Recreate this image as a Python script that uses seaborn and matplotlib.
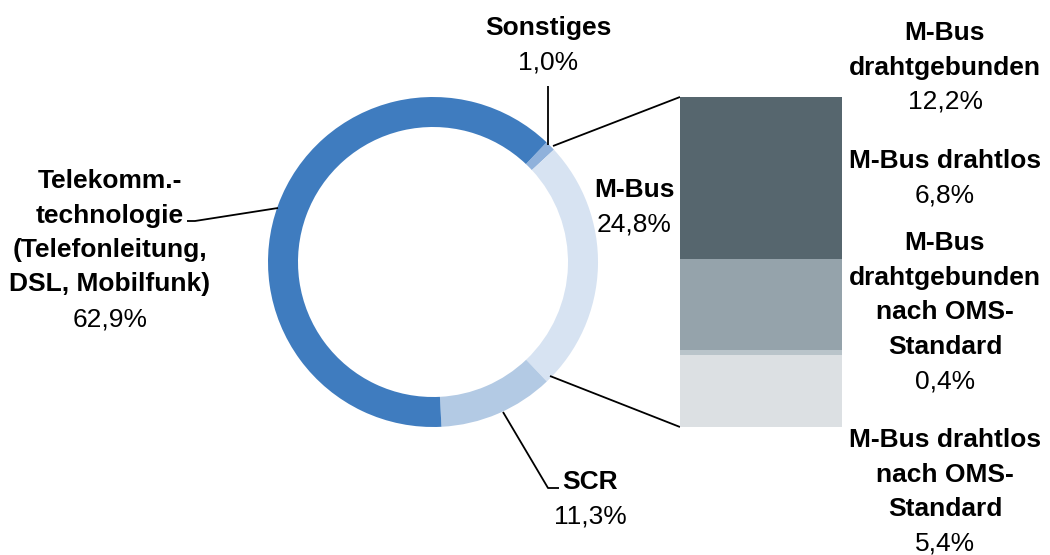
import matplotlib
matplotlib.use('Agg')
import matplotlib.pyplot as plt
import seaborn as sns

# --- Daten ---
ring_labels = ['Sonstiges', 'M-Bus', 'SCR',
               'Telekomm.-\ntechnologie\n(Telefonleitung,\nDSL, Mobilfunk)']
ring_values = [1.0, 24.8, 11.3, 62.9]
ring_colors = ['#8FB1DB', '#D7E3F2', '#B3CAE4', '#3F7CBF']

# M-Bus Aufteilung (von unten nach oben gestapelt)
bar_labels = ['M-Bus drahtlos\nnach OMS-\nStandard',
              'M-Bus\ndrahtgebunden\nnach OMS-\nStandard',
              'M-Bus drahtlos',
              'M-Bus\ndrahtgebunden']
bar_values = [5.4, 0.4, 6.8, 12.2]
bar_colors = ['#DCE0E3', '#B9C4CA', '#95A3AB', '#56666E']

# --- Stil ---
sns.set_theme(style='white')
plt.rcParams['font.family'] = ['Liberation Sans', 'DejaVu Sans']

W, H = 1050, 555
fig = plt.figure(figsize=(W / 100, H / 100), dpi=100)
ax = fig.add_axes([0, 0, 1, 1])

def fmt(v):
    return f'{v:.1f}%'.replace('.', ',')

# Ring
cx, cy, r = 433, H - 262, 165
ax.pie(ring_values, colors=ring_colors, startangle=90 - 43.5, counterclock=False,
       center=(cx, cy), radius=r, wedgeprops=dict(width=30, linewidth=0))
ax.set_xlim(0, W)
ax.set_ylim(0, H)
ax.set_aspect('auto')
ax.axis('off')

# Balken (M-Bus Aufteilung)
bx0, by0, bw, bh = 680, 97, 162, 330
axb = fig.add_axes([bx0 / W, (H - by0 - bh) / H, bw / W, bh / H])
bottom = 0
for v, c in zip(bar_values, bar_colors):
    axb.bar(0, v, bottom=bottom, width=1, color=c, linewidth=0)
    bottom += v
axb.set_xlim(-0.5, 0.5)
axb.set_ylim(0, sum(bar_values))
axb.axis('off')

fs = 19
step = 34.5

def label(x, y, name, val):
    # eine Zeile nach der anderen, fester Zeilenabstand
    lines = name.split('\n')
    for i, t in enumerate(lines):
        ax.text(x, H - (y + i * step), t, ha='center', va='center',
                fontsize=fs, fontweight='bold', color='black')
    ax.text(x, H - (y + len(lines) * step), val, ha='center', va='center',
            fontsize=fs, color='black')

# Ring-Beschriftungen
label(548, 28, ring_labels[0], fmt(ring_values[0]))
label(634, 190, ring_labels[1], fmt(ring_values[1]))
label(590, 482, ring_labels[2], fmt(ring_values[2]))
label(110, 181, ring_labels[3], fmt(ring_values[3]))

# Balken-Beschriftungen
label(945, 33, bar_labels[3], fmt(bar_values[3]))
label(945, 161, bar_labels[2], fmt(bar_values[2]))
label(945, 243, bar_labels[1], fmt(bar_values[1]))
label(945, 440, bar_labels[0], fmt(bar_values[0]))

# Führungslinien
def line(xs, ys):
    ax.plot(xs, [H - y for y in ys], color='black', linewidth=1.3,
            solid_capstyle='butt')

line([548, 548], [145, 86])
line([278, 195, 187], [208, 221, 221])
line([503, 548, 559], [412, 488, 488])
line([553, 680], [146, 97])
line([550, 680], [376, 427])

fig.savefig('out.png', dpi=100)
